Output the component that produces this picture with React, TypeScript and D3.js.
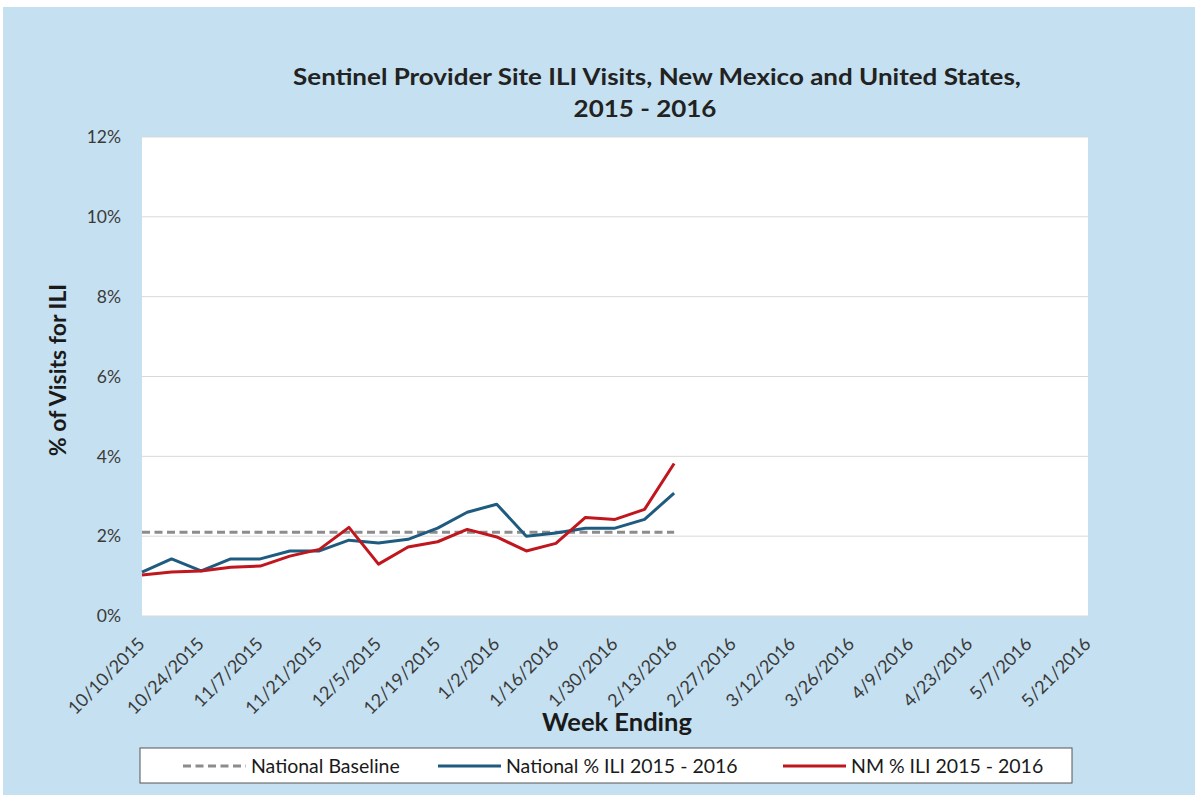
import { useEffect, useRef } from 'react';
import * as d3 from 'd3';

const weeks = [
  '10/10/2015', '10/17/2015', '10/24/2015', '10/31/2015', '11/7/2015', '11/14/2015', '11/21/2015',
  '11/28/2015', '12/5/2015', '12/12/2015', '12/19/2015', '12/26/2015', '1/2/2016', '1/9/2016',
  '1/16/2016', '1/23/2016', '1/30/2016', '2/6/2016', '2/13/2016', '2/20/2016', '2/27/2016',
  '3/5/2016', '3/12/2016', '3/19/2016', '3/26/2016', '4/2/2016', '4/9/2016', '4/16/2016',
  '4/23/2016', '4/30/2016', '5/7/2016', '5/14/2016', '5/21/2016',
];

const nationalIli = [
  1.1, 1.43, 1.13, 1.43, 1.43, 1.63, 1.63, 1.9, 1.83, 1.92, 2.2, 2.6, 2.8, 2.0, 2.08, 2.2, 2.2, 2.42, 3.08,
];

const nmIli = [
  1.03, 1.1, 1.13, 1.22, 1.25, 1.5, 1.67, 2.22, 1.3, 1.73, 1.86, 2.17, 1.98, 1.63, 1.82, 2.47, 2.42, 2.67, 3.82,
];

const nationalBaseline = 2.1;
const baselineWeeks = 19;

const yTicks = [0, 2, 4, 6, 8, 10, 12];

const legendItems = [
  { label: 'National Baseline', color: '#8c8c8c', dash: '8,4.5' },
  { label: 'National % ILI 2015 - 2016', color: '#1f5b7e', dash: null },
  { label: 'NM % ILI 2015 - 2016', color: '#c0161d', dash: null },
];

const FONT = 'Lato, "Open Sans", sans-serif';

const App = () => {
  const svgRef = useRef<SVGSVGElement>(null);

  useEffect(() => {
    const width = 1195;
    const height = 795;
    const left = 142, right = 1088, top = 137, bottom = 616;

    const svg = d3.select(svgRef.current);
    svg.selectAll('*').remove();

    svg.append('rect').attr('width', width).attr('height', height).attr('fill', '#ffffff');
    svg.append('rect').attr('x', 3).attr('y', 7).attr('width', width - 3).attr('height', height - 7).attr('fill', '#c5e0f0');

    const x = d3.scalePoint().domain(weeks).range([left, right]);
    const y = d3.scaleLinear().domain([0, 12]).range([bottom, top]);

    // plot area
    svg.append('rect')
      .attr('x', left).attr('y', top)
      .attr('width', right - left).attr('height', bottom - top)
      .attr('fill', '#ffffff');

    // gridlines
    svg.append('g')
      .selectAll('line')
      .data(yTicks)
      .join('line')
      .attr('x1', left).attr('x2', right)
      .attr('y1', d => y(d)).attr('y2', d => y(d))
      .attr('stroke', '#d9d9d9')
      .attr('stroke-width', 1);

    // y labels
    svg.append('g')
      .selectAll('text')
      .data(yTicks)
      .join('text')
      .attr('x', left - 21)
      .attr('y', d => y(d))
      .attr('dy', '0.36em')
      .attr('text-anchor', 'end')
      .attr('font-family', FONT)
      .attr('font-size', 17.5)
      .attr('fill', '#3a3a3a')
      .text(d => `${d}%`);

    // x labels, every other week
    svg.append('g')
      .selectAll('text')
      .data(weeks.filter((_, i) => i % 2 === 0))
      .join('text')
      .attr('transform', d => `translate(${(x(d) as number) + 4}, ${bottom + 29}) rotate(-45)`)
      .attr('text-anchor', 'end')
      .attr('font-family', FONT)
      .attr('font-size', 18)
      .attr('fill', '#3a3a3a')
      .text(d => d);

    const line = d3.line<number>()
      .x((_, i) => x(weeks[i]) as number)
      .y(d => y(d));

    // baseline
    svg.append('path')
      .datum(d3.range(baselineWeeks).map(() => nationalBaseline))
      .attr('d', line)
      .attr('fill', 'none')
      .attr('stroke', '#8c8c8c')
      .attr('stroke-width', 3)
      .attr('stroke-dasharray', '8,4.5');

    svg.append('path')
      .datum(nationalIli)
      .attr('d', line)
      .attr('fill', 'none')
      .attr('stroke', '#1f5b7e')
      .attr('stroke-width', 3)
      .attr('stroke-linejoin', 'round');

    svg.append('path')
      .datum(nmIli)
      .attr('d', line)
      .attr('fill', 'none')
      .attr('stroke', '#c0161d')
      .attr('stroke-width', 3)
      .attr('stroke-linejoin', 'round');

    // titles
    svg.append('text')
      .attr('transform', 'translate(657, 85) scale(1.13, 1)')
      .attr('text-anchor', 'middle')
      .attr('font-family', FONT)
      .attr('font-weight', 'bold')
      .attr('font-size', 23)
      .attr('fill', '#222')
      .text('Sentinel Provider Site ILI Visits, New Mexico and United States,');

    svg.append('text')
      .attr('transform', 'translate(645, 117) scale(1.13, 1)')
      .attr('text-anchor', 'middle')
      .attr('font-family', FONT)
      .attr('font-weight', 'bold')
      .attr('font-size', 23)
      .attr('fill', '#222')
      .text('2015 - 2016');

    svg.append('text')
      .attr('transform', `translate(66, ${370}) rotate(-90)`)
      .attr('text-anchor', 'middle')
      .attr('font-family', FONT)
      .attr('font-weight', 'bold')
      .attr('font-size', 23)
      .attr('fill', '#1a1a1a')
      .text('% of Visits for ILI');

    svg.append('text')
      .attr('x', 617).attr('y', 731)
      .attr('text-anchor', 'middle')
      .attr('font-family', FONT)
      .attr('font-weight', 'bold')
      .attr('font-size', 25.5)
      .attr('fill', '#1a1a1a')
      .text('Week Ending');

    // legend
    const legend = svg.append('g');
    legend.append('rect')
      .attr('x', 140).attr('y', 748)
      .attr('width', 932).attr('height', 35)
      .attr('fill', '#ffffff')
      .attr('stroke', '#555')
      .attr('stroke-width', 1);

    const legendX = [183, 438, 783];
    const item = legend.selectAll('g')
      .data(legendItems)
      .join('g')
      .attr('transform', (_, i) => `translate(${legendX[i]}, 766)`);

    item.append('line')
      .attr('x1', 0).attr('x2', 63)
      .attr('stroke', d => d.color)
      .attr('stroke-width', 3)
      .attr('stroke-dasharray', d => d.dash);

    item.append('text')
      .attr('x', 68)
      .attr('dy', '0.36em')
      .attr('font-family', FONT)
      .attr('font-size', 19.5)
      .attr('fill', '#1a1a1a')
      .text(d => d.label);
  }, []);

  return (
    <svg
      ref={svgRef}
      width={1195}
      height={795}
      style={{ position: 'absolute', left: 0, top: 0, display: 'block' }}
    />
  );
};

export default App;
